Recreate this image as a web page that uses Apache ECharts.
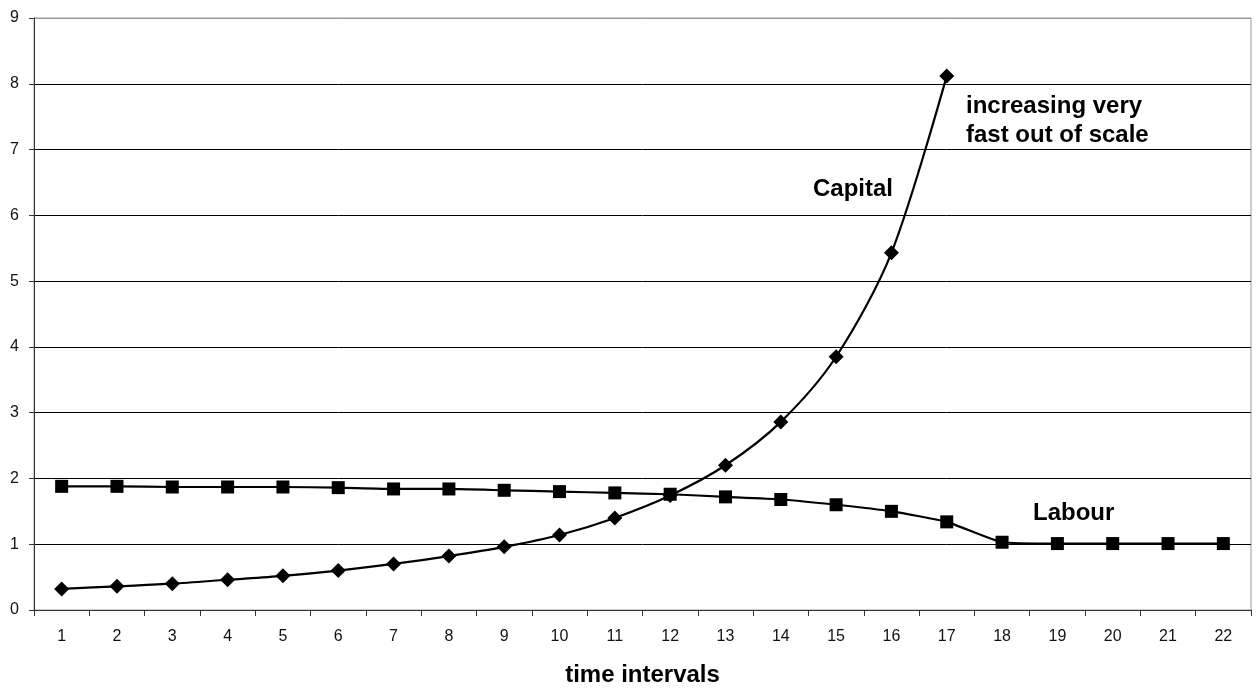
<!DOCTYPE html>
<html>
<head>
<meta charset="utf-8">
<script src="https://cdn.jsdelivr.net/npm/echarts@6/dist/echarts.min.js"></script>
<style>
html,body{margin:0;padding:0;background:#fff;}
#chart{width:1259px;height:688px;}
</style>
</head>
<body>
<div id="chart"></div>
<script>
var categories = ['1','2','3','4','5','6','7','8','9','10','11','12','13','14','15','16','17','18','19','20','21','22'];
var capital = [0.32,0.36,0.40,0.46,0.52,0.60,0.70,0.82,0.96,1.14,1.40,1.74,2.20,2.86,3.85,5.43,8.12];
var labour = [1.88,1.88,1.87,1.87,1.87,1.86,1.84,1.84,1.82,1.80,1.78,1.76,1.72,1.68,1.60,1.50,1.34,1.03,1.01,1.01,1.01,1.01];
var yTicks = [0,1,2,3,4,5,6,7,8,9];
var xAxisTitle = 'time intervals';

var chart = echarts.init(document.getElementById('chart'), null, {renderer:'canvas'});
var gridColors = yTicks.map(function(v){ return v === 9 ? '#999999' : '#000000'; });
var lblFont = {fontFamily:'Liberation Sans, Arial, sans-serif', fontSize:24, fontWeight:'bold', fill:'#000'};

chart.setOption({
  animation:false,
  backgroundColor:'#fff',
  grid:{left:34, right:8, top:18, bottom:78, outerBoundsMode:'none', containLabel:false, show:true, borderColor:'#999999', borderWidth:1, backgroundColor:'transparent'},
  xAxis:{
    type:'category',
    data:categories,
    boundaryGap:true,
    name:xAxisTitle,
    nameLocation:'middle',
    nameGap:53,
    nameTextStyle:{fontFamily:'Liberation Sans, Arial, sans-serif', fontSize:24, fontWeight:'bold', color:'#000'},
    axisLine:{lineStyle:{color:'#333', width:1}},
    axisTick:{show:true, alignWithLabel:false, length:6, lineStyle:{color:'#333'}},
    axisLabel:{margin:19, fontFamily:'Liberation Sans, Arial, sans-serif', fontSize:16, color:'#111', interval:0},
    splitLine:{show:false}
  },
  yAxis:{
    type:'value',
    min:0, max:9, interval:1,
    axisLine:{show:true, lineStyle:{color:'#333', width:1}},
    axisTick:{show:true, length:5, lineStyle:{color:'#333'}},
    axisLabel:{margin:15, fontFamily:'Liberation Sans, Arial, sans-serif', fontSize:16, color:'#111'},
    splitLine:{show:true, lineStyle:{color:gridColors, width:1}}
  },
  series:[
    {
      name:'Capital', type:'line', data:capital, smooth:0.3,
      symbol:'diamond', symbolSize:15, showAllSymbol:true,
      lineStyle:{color:'#000', width:2.2}, itemStyle:{color:'#000'}, z:3
    },
    {
      name:'Labour', type:'line', data:labour, smooth:0.15,
      symbol:'rect', symbolSize:13, showAllSymbol:true,
      lineStyle:{color:'#000', width:2.2}, itemStyle:{color:'#000'}, z:2
    }
  ],
  graphic:[
    {type:'text', left:813, top:177, style:Object.assign({text:'Capital'}, lblFont)},
    {type:'text', left:966, top:92, style:Object.assign({text:'increasing very\nfast out of scale', lineHeight:29}, lblFont)},
    {type:'text', left:1033, top:501, style:Object.assign({text:'Labour'}, lblFont)}
  ]
});
</script>
</body>
</html>
